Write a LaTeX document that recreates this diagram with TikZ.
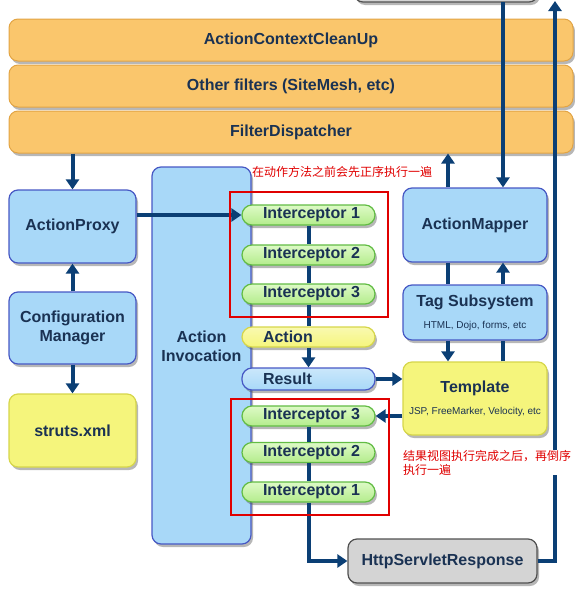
\documentclass[tikz,border=0pt]{standalone}
\usepackage{fontspec}
\setmainfont{Liberation Sans}
\newfontfamily\cjk{Noto Sans CJK SC}
\usetikzlibrary{arrows.meta,shadows}

\definecolor{navy}{HTML}{0B3F75}
\definecolor{labelblue}{HTML}{1A3253}
\definecolor{bandfill}{HTML}{FAC66C}
\definecolor{banddraw}{HTML}{E2A444}
\definecolor{boxfill}{HTML}{A8D8F8}
\definecolor{boxdraw}{HTML}{4658C4}
\definecolor{xmlfill}{HTML}{F5F57C}
\definecolor{xmldraw}{HTML}{D6D64A}
\definecolor{pilltop}{HTML}{DDFAC6}
\definecolor{pillbottom}{HTML}{B4EC8C}
\definecolor{pilldraw}{HTML}{62BC44}
\definecolor{respfill}{HTML}{D4D4D4}
\definecolor{respdraw}{HTML}{505050}
\definecolor{notered}{HTML}{E00000}

\newcommand\pl[1]{\makebox[91pt][l]{#1}}
\newcommand\sub[1]{{\fontsize{10}{12}\selectfont\mdseries #1}}

\tikzset{
  boxshadow/.style={drop shadow={shadow xshift=2pt,shadow yshift=-3pt,opacity=0.4,fill=black!70}},
  lbl/.style={font=\fontsize{16}{19}\selectfont\bfseries,text=labelblue,align=center},
  band/.style={lbl,boxshadow,draw=banddraw,fill=bandfill,line width=1pt,rounded corners=9pt,minimum width=564pt,minimum height=42pt},
  box/.style={lbl,boxshadow,draw=boxdraw,fill=boxfill,line width=1.2pt,rounded corners=9pt,inner sep=0pt},
  xmlbox/.style={box,draw=xmldraw,fill=xmlfill},
  respbox/.style={box,draw=respdraw,fill=respfill},
  pill/.style={box,draw=pilldraw,top color=pilltop,bottom color=pillbottom,rounded corners=10pt,minimum width=133pt,minimum height=20pt},
  flow/.style={navy,line width=4pt,-{Triangle[width=13pt,length=10pt]}},
  link/.style={navy,line width=4pt},
  note/.style={text=notered,font=\fontsize{12}{14}\selectfont\cjk,inner sep=0pt},
  frame/.style={draw=notered,line width=1.5pt}
}

\begin{document}
\begin{tikzpicture}[x=1pt,y=-1pt]
\useasboundingbox (0,0) rectangle (575,592);

% filter chain
\node[respbox,minimum width=184pt,minimum height=44pt] (top) at (446,-20) {};
\node[band] (clean) at (291,40) {ActionContextCleanUp};
\node[band] (other) at (291,86) {Other filters (SiteMesh, etc)};
\node[band] (fd) at (291,132) {FilterDispatcher};

% left column
\node[box,minimum width=127pt,minimum height=73pt] (proxy) at (72.5,226.5) {ActionProxy};
\node[box,minimum width=127pt,minimum height=72pt] (cfg) at (72.5,328) {Configuration\\Manager};
\node[xmlbox,minimum width=127pt,minimum height=73pt] (struts) at (72.5,430.5) {struts.xml};
\node[box,minimum width=99pt,minimum height=377pt,
  label={[lbl,yshift=9pt]center:Action\\Invocation}] (inv) at (201.5,355.5) {};

% interceptors
\node[pill] (i1) at (308.5,215) {\pl{Interceptor 1}};
\node[pill] (i2) at (308.5,255) {\pl{Interceptor 2}};
\node[pill] (i3) at (308.5,294) {\pl{Interceptor 3}};
\node[pill,draw=xmldraw,top color=xmlfill!60!white,bottom color=xmlfill] (act) at (308.5,337) {\pl{Action}};
\node[pill,draw=boxdraw,top color=boxfill!60!white,bottom color=boxfill,minimum height=22pt] (res) at (308.5,379) {\pl{Result}};
\node[pill] (j3) at (308.5,416) {\pl{Interceptor 3}};
\node[pill] (j2) at (308.5,452.5) {\pl{Interceptor 2}};
\node[pill] (j1) at (308.5,492) {\pl{Interceptor 1}};

% right column
\node[box,minimum width=144pt,minimum height=74pt] (map) at (475,225) {ActionMapper};
\node[box,minimum width=144pt,minimum height=55pt] (tag) at (475,312.5) {Tag Subsystem\\[3pt]\sub{HTML, Dojo, forms, etc}};
\node[xmlbox,minimum width=144pt,minimum height=73pt] (tpl) at (475,398.5) {Template\\[3pt]\sub{JSP, FreeMarker, Velocity, etc}};
\node[respbox,minimum width=189pt,minimum height=44pt] (resp) at (442.5,561) {HttpServletResponse};

\coordinate (ml) at (448,0);
\coordinate (mr) at (503,2);
\coordinate (exit) at (555,1);

% connectors
\draw[flow] (proxy.north |- fd.south) -- (proxy.north);
\draw[flow] (cfg.north) -- (proxy.south);
\draw[flow] (cfg.south) -- (struts.north);
\draw[flow] (i1.west -| proxy.east) -- (i1.west);
\draw[link] (i1.south) -- (i2.north);
\draw[link] (i2.south) -- (i3.north);
\draw[link] (i3.south) -- (act.north);
\draw[flow] (act.south) -- (res.north);
\draw[flow] (res.east) -- (res.east -| tpl.west);
\draw[flow] (j3.east -| tpl.west) -- (j3.east);
\draw[link] (j3.south) -- (j2.north);
\draw[link] (j2.south) -- (j1.north);
\draw[flow] (j1.south) |- (resp.west);
\draw[flow] (mr) -- (mr |- map.north);
\draw[flow] (ml |- map.north) -- (ml |- fd.south);
\draw[link] (ml |- map.south) -- (ml |- tag.north);
\draw[flow] (ml |- tag.south) -- (ml |- tpl.north);
\draw[link] (mr |- tpl.north) -- (mr |- tag.south);
\draw[flow] (mr |- tag.north) -- (mr |- map.south);
\draw[flow] (resp.east) -| (exit);

% notes
\draw[frame] (230,192) rectangle (388,317);
\draw[frame] (231,399) rectangle (389,515);
\node[note,anchor=west] (before) at (252,172) {在动作方法之前会先正序执行一遍};
\node[note,anchor=north west,align=left,fill=white] (after) at (403,450) {结果视图执行完成之后，再倒序\\执行一遍};
\end{tikzpicture}
\end{document}
